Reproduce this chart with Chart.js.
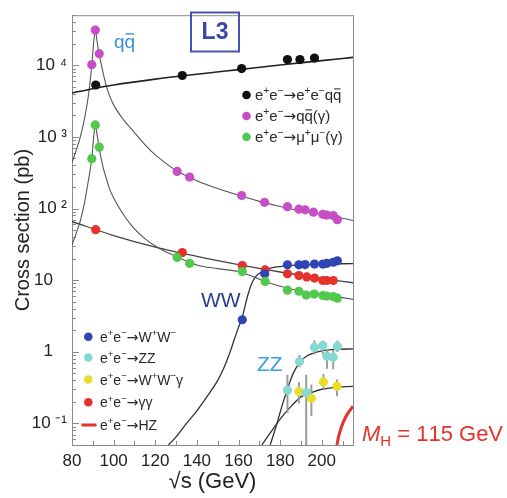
<!DOCTYPE html>
<html>
<head>
<meta charset="utf-8">
<script src="https://cdn.jsdelivr.net/npm/chart.js@4.4.1/dist/chart.umd.min.js"></script>
<style>
  html, body { margin: 0; padding: 0; background: #fff; }
  canvas { display: block; }
</style>
</head>
<body>
<canvas id="xsecChart" width="507" height="498"></canvas>
<script>
// measured points (sqrt(s) in GeV, cross section in pb)
const eeqqX = [91.4, 133, 161.5, 183.5, 189.5, 196.5];
const eeqqY = [5300, 7200, 9000, 12000, 12000, 12600];

const qqX = [89.5, 91.2, 93.1, 130.5, 136.5, 161.5, 172.5, 183.5, 189, 192, 196, 200.5, 202.4, 205.5, 207.5];
const qqY = [10200, 31000, 14500, 330, 275, 152, 122, 106, 98, 96, 89, 83, 81, 80, 70];

const mumuX = [89.5, 91.2, 93.1, 130.5, 136.5, 161.8, 172.8, 183.5, 189, 192.5, 196.3, 200.5, 202.4, 205.5, 207.5];
const mumuY = [496, 1470, 718, 20.8, 17.2, 13.2, 9.6, 7.25, 7.0, 6.2, 6.4, 6.1, 6.0, 5.9, 5.6];

const ggX = [91.4, 133, 161.8, 172.8, 183.5, 189, 192.8, 196.5, 200.5, 202.4, 205.5];
const ggY = [50.7, 24.3, 16, 13.9, 12.3, 11.6, 11.1, 10.7, 9.9, 9.9, 9.9];

const wwX = [161.8, 172.6, 183.5, 189, 192, 196.5, 200.5, 202.5, 205.5, 207.5];
const wwY = [2.8, 12.3, 16.4, 16.4, 16.5, 16.8, 16.8, 17.2, 17.8, 18.6];

const zzX  = [183.5, 189.3, 192.5, 196.5, 200.5, 202.5, 205.5, 207.5];
const zzY  = [0.29, 0.73, 0.27, 1.15, 1.22, 0.87, 0.84, 1.19];
const zzLo = [0.14, 0.61, 0.01, 0.92, 0.92, 0.58, 0.57, 0.99];
const zzHi = [0.48, 0.90, 0.48, 1.44, 1.44, 1.05, 1.05, 1.44];

const wwgX  = [189, 195, 200.8, 207.3];
const wwgY  = [0.28, 0.225, 0.38, 0.33];
const wwgLo = [0.19, 0.127, 0.30, 0.24];
const wwgHi = [0.38, 0.35, 0.49, 0.41];

// theory curves
const eeqqCurveX = [80, 90, 100, 120, 140, 160, 180, 200, 215];
const eeqqCurveY = [4100, 4700, 5300, 6400, 7500, 8700, 10100, 11600, 12900];

const qqCurveX = [80, 82, 84, 86, 88, 89.5, 90.5, 91.2, 92, 93, 94, 95, 96.7, 98, 100, 105, 110, 115, 120, 125, 130, 140, 150, 160, 170, 180, 190, 200, 210, 215];
const qqCurveY = [440, 650, 1000, 1800, 4000, 10000, 22000, 31000, 22000, 14500, 10500, 7700, 4900, 3800, 2800, 1700, 1150, 780, 560, 430, 340, 245, 190, 153, 126, 107, 93, 82, 73, 68];

const mumuCurveX = [80, 82, 84, 86, 88, 89.5, 90.5, 91.2, 92, 93, 94, 95, 96.7, 98, 100, 105, 110, 115, 120, 125, 130, 140, 150, 160, 165, 170, 175, 180, 190, 200, 210, 215];
const mumuCurveY = [31, 45, 68, 120, 260, 500, 1050, 1480, 1100, 720, 500, 370, 250, 190, 140, 80, 52, 38, 30, 25, 21.5, 16.3, 14.5, 13.2, 11.8, 10.3, 9.1, 8.2, 7.0, 6.3, 5.7, 5.4];

const ggCurveX = [80, 100, 120, 140, 160, 180, 200, 215];
const ggCurveY = [66, 42, 29, 21.5, 16.5, 13, 10.6, 9.2];

const wwCurveX = [126.3, 130, 135, 140, 145, 150, 153, 156, 158, 160, 162, 164, 166, 168, 171, 175, 180, 190, 200, 215];
const wwCurveY = [0.05, 0.065, 0.1, 0.15, 0.24, 0.4, 0.6, 1.0, 1.5, 2.2, 3.2, 5.5, 8.5, 11, 13, 14.6, 15.5, 16.3, 16.8, 17.0];

const zzCurveX = [175.2, 178, 181, 183.5, 186, 189.5, 193, 197, 200, 207, 215];
const zzCurveY = [0.05, 0.09, 0.18, 0.3, 0.48, 0.72, 0.88, 0.98, 1.03, 1.08, 1.1];

const wwgCurveX = [171.2, 175, 180, 185, 190, 195, 200, 207, 215];
const wwgCurveY = [0.05, 0.072, 0.115, 0.17, 0.235, 0.27, 0.30, 0.32, 0.33];

const hzCurveX = [207.3, 208, 209.5, 211.3, 213, 215];
const hzCurveY = [0.05, 0.064, 0.09, 0.12, 0.145, 0.174];

// axis tick labels
const xTickValues = [80, 100, 120, 140, 160, 180, 200];
const xTickLabels = ['80', '100', '120', '140', '160', '180', '200'];
const yTickValues = [0.1, 1, 10, 100, 1000, 10000];
const yTickLabels = ['10 \u207B\u00B9', '1   ', '10   ', '10 \u00B2', '10 \u00B3', '10 \u2074'];

// legends ('^' superscript, '_' subscript, '!' overline, '*' italic)
const topLegendLabels = ['e^+e^\u2212\u2192e^+e^\u2212q!q', 'e^+e^\u2212\u2192q!q(\u03B3)', 'e^+e^\u2212\u2192\u03BC^+\u03BC^\u2212(\u03B3)'];
const topLegendColors = ['#111111', '#c64fc6', '#52c84e'];
const bottomLegendLabels = ['e^+e^\u2212\u2192W^+W^\u2212', 'e^+e^\u2212\u2192ZZ', 'e^+e^\u2212\u2192W^+W^\u2212\u03B3', 'e^+e^\u2212\u2192\u03B3\u03B3', 'e^+e^\u2212\u2192HZ'];
const bottomLegendColors = ['#2f45b5', '#84d9d2', '#ecdc2c', '#e5322a', '#e5322a'];

const FONT = '"Liberation Sans", Arial, Helvetica, sans-serif';
Chart.defaults.font.family = FONT;
Chart.defaults.color = '#222';

function pts(xs, ys) {
  return xs.map((x, i) => ({ x: x, y: ys[i] }));
}

function errorBars(xs, lo, hi) {
  const out = [];
  xs.forEach((x, i) => {
    out.push({ x: x, y: lo[i] }, { x: x, y: hi[i] }, { x: x, y: null });
  });
  return out;
}

function pointSet(label, xs, ys, color) {
  return {
    label: label, data: pts(xs, ys), showLine: false, order: 0,
    pointRadius: 4.6, pointBorderWidth: 0,
    pointBackgroundColor: color, borderColor: color
  };
}

function curveSet(label, xs, ys, color, width) {
  return {
    label: label, data: pts(xs, ys), order: 2,
    borderColor: color, borderWidth: width, pointRadius: 0,
    cubicInterpolationMode: 'monotone', fill: false
  };
}

function richText(ctx, str, x, y, size, color) {
  ctx.fillStyle = color;
  ctx.strokeStyle = color;
  ctx.textAlign = 'left';
  ctx.textBaseline = 'alphabetic';
  let cx = x;
  for (let i = 0; i < str.length; i++) {
    let ch = str[i], mode = '';
    if ('^_!*'.includes(ch)) { mode = ch; ch = str[++i]; }
    const small = mode === '^' || mode === '_';
    const fs = small ? size * 0.68 : size;
    const fam = ch === '\u2192' ? '"DejaVu Sans", sans-serif' : FONT;
    ctx.font = (mode === '*' ? 'italic ' : '') + fs + 'px ' + fam;
    const dy = mode === '^' ? -size * 0.4 : mode === '_' ? size * 0.24 : 0;
    ctx.fillText(ch, cx, y + dy);
    const w = ctx.measureText(ch).width;
    if (mode === '!') {
      ctx.lineWidth = Math.max(1, size / 14);
      ctx.beginPath();
      ctx.moveTo(cx + 1, y - size * 0.74);
      ctx.lineTo(cx + w - 1, y - size * 0.74);
      ctx.stroke();
    }
    cx += w;
  }
  return cx - x;
}

const isDecade = v => Math.abs(Math.log10(v) - Math.round(Math.log10(v))) < 1e-9;

// frame + inward tick marks
const frameTicks = {
  id: 'frameTicks',
  beforeDatasetsDraw(chart) {
    const { ctx, chartArea: a, scales } = chart;
    ctx.save();
    ctx.strokeStyle = '#8a8a8a';
    ctx.lineWidth = 1;
    ctx.strokeRect(a.left + 0.5, a.top + 0.5, a.right - a.left, a.bottom - a.top);
    ctx.beginPath();
    scales.x.ticks.forEach(t => {
      const px = Math.round(scales.x.getPixelForValue(t.value)) + 0.5;
      const len = t.value % 20 === 0 ? 5 : 4;
      ctx.moveTo(px, a.bottom);
      ctx.lineTo(px, a.bottom - len);
    });
    scales.y.ticks.forEach(t => {
      const v = t.value;
      const mant = v / Math.pow(10, Math.floor(Math.log10(v) + 1e-9));
      if (Math.abs(mant - Math.round(mant)) > 1e-6) return;
      const py = Math.round(scales.y.getPixelForValue(v)) + 0.5;
      const len = isDecade(v) ? 7 : 4;
      ctx.moveTo(a.left, py);
      ctx.lineTo(a.left + len, py);
    });
    ctx.stroke();
    ctx.restore();
  }
};

// legends and labels
const annotations = {
  id: 'annotations',
  afterDraw(chart) {
    const ctx = chart.ctx;
    ctx.save();
    topLegendLabels.forEach((lab, i) => {
      const y = 95 + i * 21;
      ctx.fillStyle = topLegendColors[i];
      ctx.beginPath(); ctx.arc(246.5, y, 4.3, 0, Math.PI * 2); ctx.fill();
      richText(ctx, lab, 255, y + 5, 15, '#2a2a2a');
    });
    bottomLegendLabels.forEach((lab, i) => {
      const y = [336.7, 357.5, 379.5, 402.3, 425][i];
      ctx.fillStyle = bottomLegendColors[i];
      if (i === 4) {
        ctx.fillRect(81.5, y - 1.5, 15, 3);
      } else {
        ctx.beginPath(); ctx.arc(88.3, y, 4.3, 0, Math.PI * 2); ctx.fill();
      }
      richText(ctx, lab, 100, y + 5, 14, '#2a2a2a');
    });
    // L3 box
    ctx.strokeStyle = '#4653b5';
    ctx.lineWidth = 2;
    ctx.strokeRect(191, 12.5, 48, 39);
    ctx.fillStyle = '#3b48a6';
    ctx.font = 'bold 23px ' + FONT;
    ctx.textAlign = 'center';
    ctx.textBaseline = 'middle';
    ctx.fillText('L3', 215, 33);
    // process labels
    richText(ctx, 'q!q', 114, 48, 19, '#3a8fd6');
    richText(ctx, 'WW', 201, 307, 21, '#2d3d8e');
    richText(ctx, 'ZZ', 257, 371, 21, '#3c9fe0');
    richText(ctx, '*M_H = 115 GeV', 362, 441, 22, '#e5322a');
    ctx.restore();
  }
};

const ctx = document.getElementById('xsecChart').getContext('2d');
const xsecChart = new Chart(ctx, {
  type: 'line',
  data: {
    datasets: [
      pointSet('ee->eeqq', eeqqX, eeqqY, topLegendColors[0]),
      pointSet('ee->qq', qqX, qqY, topLegendColors[1]),
      pointSet('ee->mumu', mumuX, mumuY, topLegendColors[2]),
      pointSet('ee->WW', wwX, wwY, bottomLegendColors[0]),
      pointSet('ee->ZZ', zzX, zzY, bottomLegendColors[1]),
      pointSet('ee->WWg', wwgX, wwgY, bottomLegendColors[2]),
      pointSet('ee->gg', ggX, ggY, bottomLegendColors[3]),
      {
        label: 'ZZ errors', data: errorBars(zzX, zzLo, zzHi), order: 1,
        borderColor: '#9c9c9c', borderWidth: 2, pointRadius: 0, spanGaps: false
      },
      {
        label: 'WWg errors', data: errorBars(wwgX, wwgLo, wwgHi), order: 1,
        borderColor: '#9c9c9c', borderWidth: 2, pointRadius: 0, spanGaps: false
      },
      curveSet('eeqq curve', eeqqCurveX, eeqqCurveY, '#222', 1.6),
      curveSet('qq curve', qqCurveX, qqCurveY, '#555', 1.1),
      curveSet('mumu curve', mumuCurveX, mumuCurveY, '#555', 1.1),
      curveSet('gg curve', ggCurveX, ggCurveY, '#444', 1.3),
      curveSet('WW curve', wwCurveX, wwCurveY, '#333', 1.3),
      curveSet('ZZ curve', zzCurveX, zzCurveY, '#333', 1.3),
      curveSet('WWg curve', wwgCurveX, wwgCurveY, '#333', 1.3),
      curveSet('HZ curve', hzCurveX, hzCurveY, '#e5322a', 3)
    ]
  },
  options: {
    responsive: false,
    animation: false,
    events: [],
    layout: { padding: { left: 0, top: 7, right: 154, bottom: 0 } },
    plugins: {
      legend: { display: false },
      tooltip: { enabled: false }
    },
    scales: {
      x: {
        type: 'linear',
        min: 80,
        max: 215,
        afterFit: s => { s.height = 53; },
        grid: { display: false, drawTicks: false },
        border: { display: false },
        ticks: {
          stepSize: 10,
          includeBounds: false,
          autoSkip: false,
          maxRotation: 0,
          padding: 6,
          color: '#222',
          font: { size: 17 },
          callback: v => {
            const i = xTickValues.indexOf(v);
            return i >= 0 ? xTickLabels[i] : '';
          }
        },
        title: {
          display: true,
          text: '\u221As (GeV)',
          color: '#222',
          font: { size: 22 },
          padding: { top: 0, bottom: 3 }
        }
      },
      y: {
        type: 'logarithmic',
        min: 0.05,
        max: 50000,
        afterFit: s => { s.width = 72; },
        grid: { display: false, drawTicks: false },
        border: { display: false },
        ticks: {
          autoSkip: false,
          padding: 5,
          color: '#222',
          font: { size: 17 },
          callback: v => {
            const i = yTickValues.findIndex(t => Math.abs(t - v) < t * 1e-6);
            return i >= 0 ? yTickLabels[i] : '';
          }
        },
        title: {
          display: true,
          text: 'Cross section (pb)',
          color: '#222',
          font: { size: 20 },
          padding: { top: 11, bottom: 0 }
        }
      }
    }
  },
  plugins: [frameTicks, annotations]
});
</script>
</body>
</html>
